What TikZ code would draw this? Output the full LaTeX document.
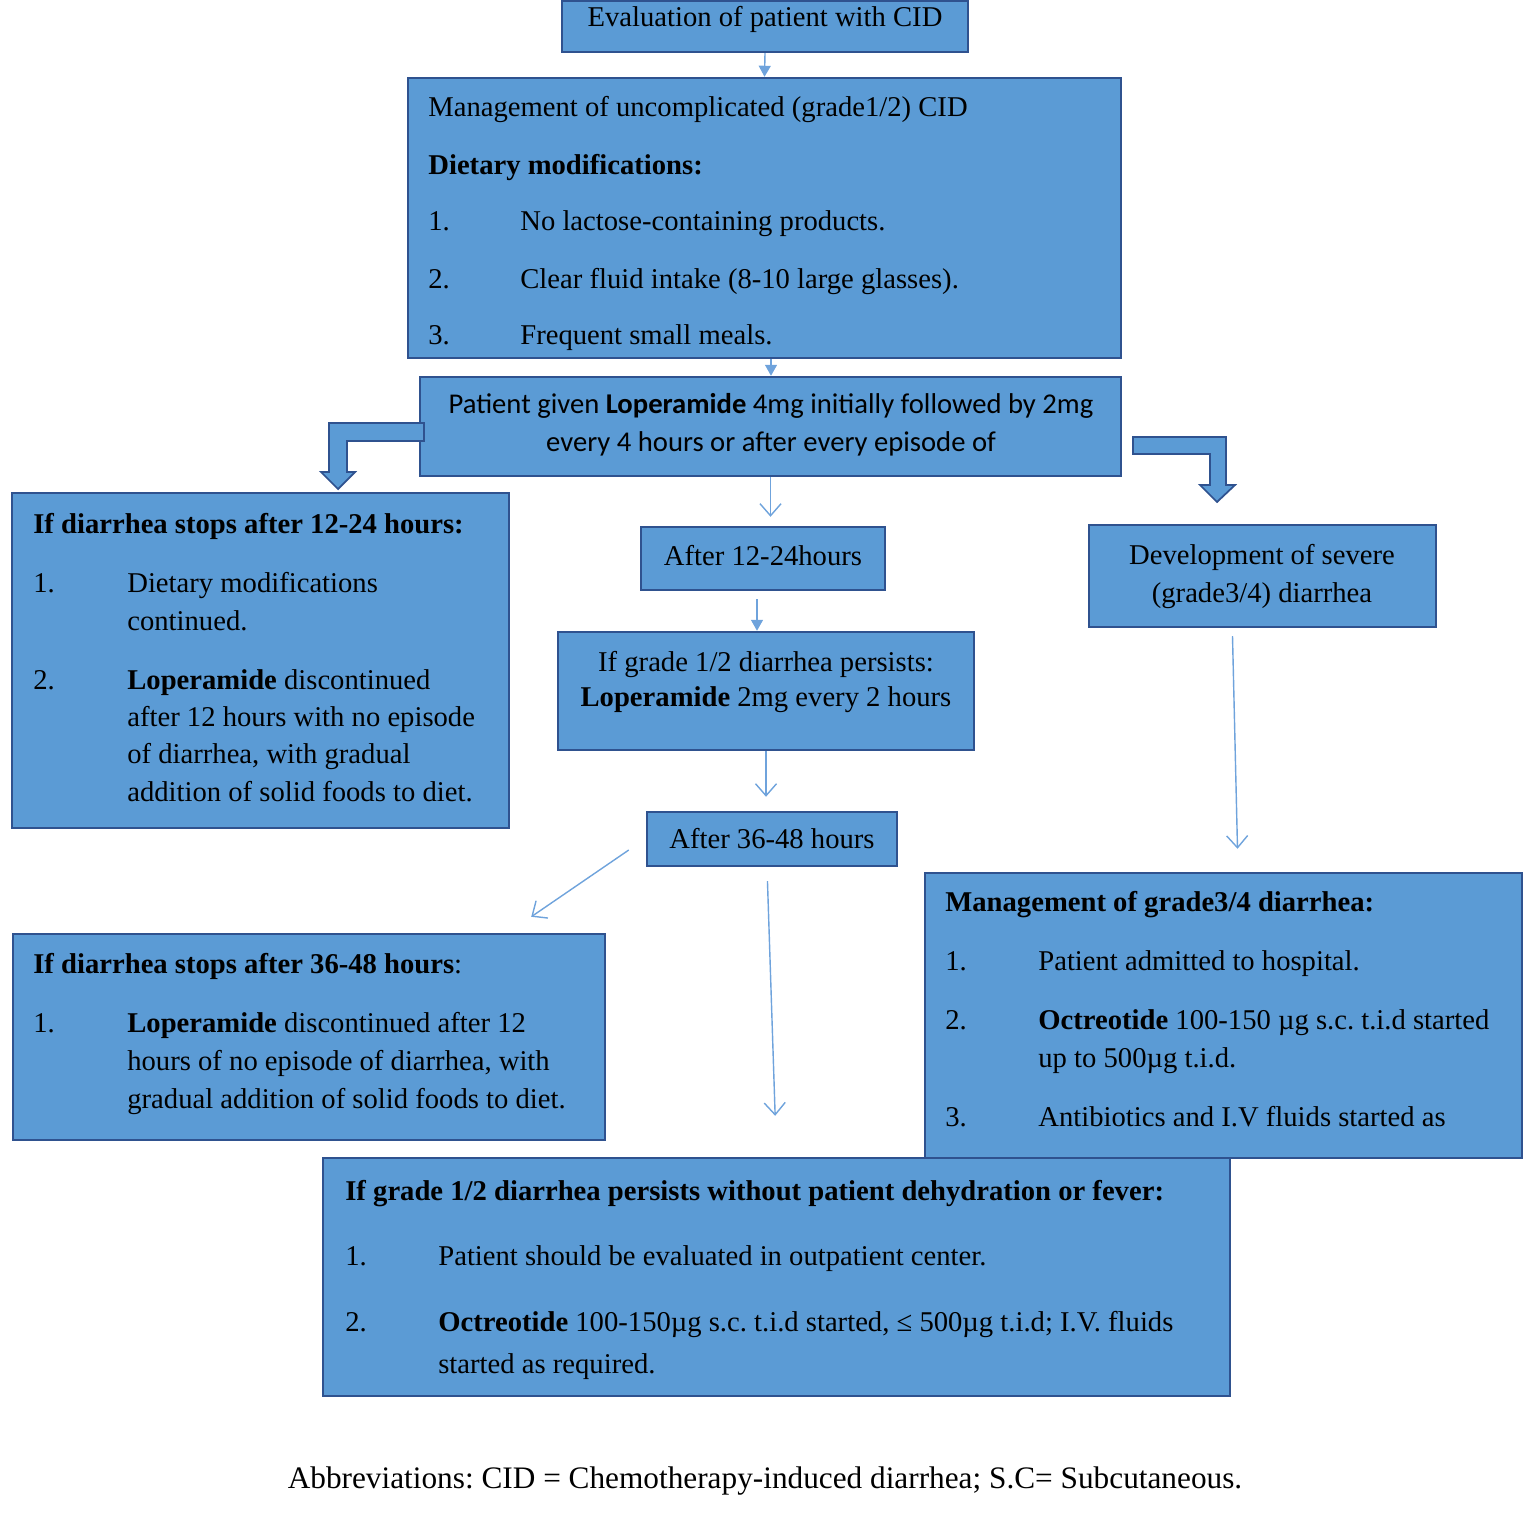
\documentclass[tikz,border=0pt]{standalone}
\usepackage{fontspec}
\setmainfont{Liberation Serif}
\newfontfamily\calfont{Carlito}
\usetikzlibrary{arrows.meta,fit}
\definecolor{boxblue}{HTML}{5B9BD5}
\definecolor{boxline}{HTML}{2F528F}
\definecolor{linkblue}{HTML}{6FA3DC}

\begin{document}
\frenchspacing
\begin{tikzpicture}[x=0.2mm,y=-0.2mm,
  box/.style={rectangle,draw=boxline,fill=boxblue,line width=1.4pt,inner sep=0pt},
  txt/.style={anchor=base west,inner sep=0pt,font=\fontsize{16.3}{19}\selectfont},
  ctxt/.style={txt,anchor=base},
  sanstxt/.style={ctxt,font=\calfont\fontsize{16.3}{19}\selectfont},
  linkarrow/.style={draw=linkblue,line width=0.8pt,-{Triangle[length=2.2mm,width=2.4mm]}},
  linkbarb/.style={draw=linkblue,line width=0.8pt,-{Straight Barb[length=2.4mm,width=4.2mm]}},
  bentarrow/.style={draw=boxline,fill=boxblue,line width=1pt,line join=miter}]
\useasboundingbox (0,0) rectangle (1536,1536);

\node[box,fit={(562,1)(968,52)}] (eval) {};
\node[ctxt] (evalt) at (765,26) {Evaluation of patient with CID};

\node[box,fit={(408,78)(1121,358)}] (mgmt) {};
\node[txt] (mgmt0) at (428,116) {Management of uncomplicated (grade1/2) CID};
\node[txt] (mgmt1) at (428,174) {\textbf{Dietary modifications:}};
\node[txt] (mgmt2n) at (428,230) {1.};
\node[txt] (mgmt2) at (520,230) {No lactose-containing products.};
\node[txt] (mgmt3n) at (428,288) {2.};
\node[txt] (mgmt3) at (520,288) {Clear fluid intake (8-10 large glasses).};
\node[txt] (mgmt4n) at (428,344) {3.};
\node[txt] (mgmt4) at (520,344) {Frequent small meals.};

\node[box,fit={(420,377)(1121,476)}] (lop) {};
\node[sanstxt] (lop1) at (771,413) {Patient given \textbf{Loperamide} 4mg initially followed by 2mg};
\node[sanstxt] (lop2) at (771,451) {every 4 hours or after every episode of};

\node[box,fit={(12,493)(509,828)}] (stop12) {};
\node[txt] (stop12h) at (33,533) {\textbf{If diarrhea stops after 12-24 hours:}};
\node[txt] (stop12an) at (33,592) {1.};
\node[txt] (stop12a) at (127,592) {Dietary modifications};
\node[txt] (stop12b) at (127,630) {continued.};
\node[txt] (stop12cn) at (33,689) {2.};
\node[txt] (stop12c) at (127,689) {\textbf{Loperamide} discontinued};
\node[txt] (stop12d) at (127,726) {after 12 hours with no episode};
\node[txt] (stop12e) at (127,763) {of diarrhea, with gradual};
\node[txt] (stop12f) at (127,801) {addition of solid foods to diet.};

\node[box,fit={(641,527)(885,590)}] (after12) {};
\node[ctxt] (after12t) at (763,565) {After 12-24hours};

\node[box,fit={(558,632)(974,750)}] (persist) {};
\node[ctxt] (persist1) at (766,671) {If grade 1/2 diarrhea persists:};
\node[ctxt] (persist2) at (766,706) {\textbf{Loperamide} 2mg every 2 hours};

\node[box,fit={(647,812)(897,866)}] (after36) {};
\node[ctxt] (after36t) at (772,848) {After 36-48 hours};

\node[box,fit={(1089,525)(1436,627)}] (severe) {};
\node[ctxt] (severe1) at (1262,564) {Development of severe};
\node[ctxt] (severe2) at (1262,602) {(grade3/4) diarrhea};

\node[box,fit={(925,873)(1522,1158)}] (grade34) {};
\node[txt] (grade34h) at (945,911) {\textbf{Management of grade3/4 diarrhea:}};
\node[txt] (grade34an) at (945,970) {1.};
\node[txt] (grade34a) at (1038,970) {Patient admitted to hospital.};
\node[txt] (grade34bn) at (945,1029) {2.};
\node[txt] (grade34b) at (1038,1029) {\textbf{Octreotide} 100-150 µg s.c. t.i.d started};
\node[txt] (grade34c) at (1038,1067) {up to 500µg t.i.d.};
\node[txt] (grade34dn) at (945,1126) {3.};
\node[txt] (grade34d) at (1038,1126) {Antibiotics and I.V fluids started as};

\node[box,fit={(13,934)(605,1140)}] (stop36) {};
\node[txt] (stop36h) at (33,973) {\textbf{If diarrhea stops after 36-48 hours}:};
\node[txt] (stop36an) at (33,1032) {1.};
\node[txt] (stop36a) at (127,1032) {\textbf{Loperamide} discontinued after 12};
\node[txt] (stop36b) at (127,1070) {hours of no episode of diarrhea, with};
\node[txt] (stop36c) at (127,1108) {gradual addition of solid foods to diet.};

\node[box,fit={(323,1158)(1230,1396)}] (outpt) {};
\node[txt] (outpth) at (345,1200) {\textbf{If grade 1/2 diarrhea persists without patient dehydration or fever:}};
\node[txt] (outptan) at (345,1265) {1.};
\node[txt] (outpta) at (438,1265) {Patient should be evaluated in outpatient center.};
\node[txt] (outptbn) at (345,1331) {2.};
\node[txt] (outptb) at (438,1331) {\textbf{Octreotide} 100-150µg s.c. t.i.d started, ≤ 500µg t.i.d; I.V. fluids};
\node[txt] (outptc) at (438,1373) {started as required.};

\node[ctxt,font=\fontsize{17.8}{21}\selectfont] (abbr) at (765,1488) {Abbreviations: CID = Chemotherapy-induced diarrhea; S.C= Subcutaneous.};

\draw[linkarrow] (eval.south) -- (mgmt.north);
\draw[linkarrow] (mgmt.south -| lop1.south) -- (lop.north -| lop1.south);
\draw[linkbarb,shorten >=1.8mm] (lop.south) -- (lop.south |- after12.north);
\draw[linkarrow,shorten <=1.6mm] ([xshift=-1.2mm]after12.south) -- ([xshift=-1.2mm]after12.south |- persist.north);
\draw[linkbarb,shorten >=2.8mm] (persist.south) -- (persist.south |- after36.north);
\draw[linkbarb,shorten <=2.8mm,shorten >=8.2mm] ([xshift=-1mm]after36.south) -- (outpt.north);
\draw[linkbarb] ([shift={(-17,11)}]after36.west) -- ([shift={(-75,-16)}]stop36.north east);
\draw[linkbarb] ([shift={(-30,8)}]severe.south) -- ([shift={(14,-23)}]grade34.north);

\draw[bentarrow] (424,423) -- (329,423) -- (329,472) -- (321,472) -- (338,489)
  -- (355,472) -- (347,472) -- (347,441) -- (424,441) -- cycle;
\draw[bentarrow] (1133,437) -- (1226,437) -- (1226,485) -- (1235,485) -- (1217,502)
  -- (1200,485) -- (1210,485) -- (1210,454) -- (1133,454) -- cycle;
\end{tikzpicture}
\end{document}
